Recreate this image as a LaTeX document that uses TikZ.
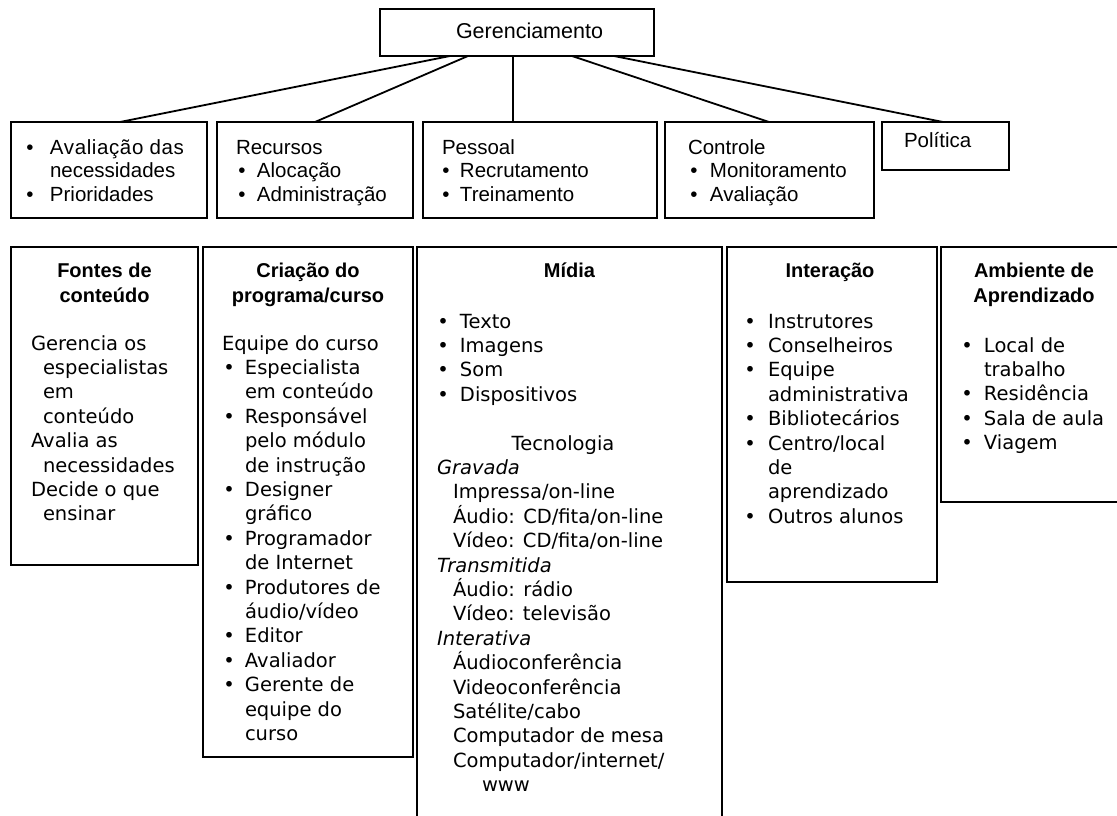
\documentclass[tikz,border=0pt]{standalone}
\usepackage{fontspec}
\setmainfont{Liberation Sans}
\newfontfamily\cg{DejaVu Sans}[ItalicFont={DejaVu Sans Oblique},BoldFont={DejaVu Sans Bold}]
\usetikzlibrary{calc}
\newcommand\bitem[3]{\par\noindent\hangindent=#2\relax\hangafter=1\relax\makebox[#2][l]{\hspace*{#1}\makebox[0pt]{\textbullet}}#3\par}
\newcommand\hitem[2]{\par\noindent\hangindent=#1\relax\hangafter=1\relax #2\par}
\newcommand\rowA{\fontsize{20.5}{23.5}\selectfont}
\newcommand\rowB{\cg\fontsize{19.5}{24.4}\selectfont}
\newcommand\headB{\normalfont\bfseries\fontsize{20}{25}\selectfont}
\begin{document}
\begin{tikzpicture}[x=1pt,y=-1pt,
  box/.style={draw, line width=1.8pt, inner sep=0pt, outer sep=0pt, anchor=north west, rectangle},
  txt/.style={inner sep=0pt, outer sep=0pt, anchor=base west},
  head/.style={inner sep=0pt, outer sep=0pt, anchor=base},
  conn/.style={line width=1.8pt}]
\useasboundingbox (0,0) rectangle (1117,816);

% top
\node[box, minimum width=274pt, minimum height=47pt] (g) at (380,9) {};
\node[txt] (gt) at (456,39) {\fontsize{21.5}{24}\selectfont Gerenciamento};

% row 1 boxes
\node[box, minimum width=196pt, minimum height=96pt] (b1) at (11,122) {};
\node[box, minimum width=196pt, minimum height=96pt] (b2) at (217,122) {};
\node[box, minimum width=234pt, minimum height=96pt] (b3) at (423,122) {};
\node[box, minimum width=209pt, minimum height=96pt] (b4) at (665,122) {};
\node[box, minimum width=127pt, minimum height=48pt] (b5) at (882,122) {};

\node[txt] (b1t) at (21,154) {\parbox[t]{185pt}{\rowA
  \bitem{9pt}{29pt}{\addfontfeature{LetterSpace=3}Avaliação das\newline\addfontfeature{LetterSpace=0}necessidades}
  \bitem{9pt}{29pt}{Prioridades}}};
\node[txt] (b2t) at (236,154) {\parbox[t]{175pt}{\rowA
  \hitem{0pt}{Recursos}
  \bitem{6pt}{21pt}{Alocação}
  \bitem{6pt}{21pt}{Administração}}};
\node[txt] (b3t) at (442,154) {\parbox[t]{210pt}{\rowA
  \hitem{0pt}{Pessoal}
  \bitem{4pt}{18pt}{Recrutamento}
  \bitem{4pt}{18pt}{Treinamento}}};
\node[txt] (b4t) at (688,154) {\parbox[t]{185pt}{\rowA
  \hitem{0pt}{Controle}
  \bitem{6pt}{22pt}{Monitoramento}
  \bitem{6pt}{22pt}{Avaliação}}};
\node[txt] (b5t) at (904,147) {\rowA Política};

% connectors
\draw[conn] ($(g.south west)+(70,0)$) -- ($(b1.north west)+(109,0)$);
\draw[conn] ($(g.south west)+(88,0)$) -- ($(b2.north west)+(98,0)$);
\draw[conn] ($(g.south west)+(133,0)$) -- ($(b3.north west)+(90,0)$);
\draw[conn] ($(g.south west)+(192,0)$) -- ($(b4.north west)+(104,0)$);
\draw[conn] ($(g.south west)+(234,0)$) -- ($(b5.north west)+(61,0)$);

% row 2 boxes
\node[box, minimum width=187pt, minimum height=318pt] (c1) at (11,247) {};
\node[box, minimum width=210pt, minimum height=510pt] (c2) at (203,247) {};
\node[box, minimum width=305pt, minimum height=600pt] (c3) at (417,247) {};
\node[box, minimum width=210pt, minimum height=335pt] (c4) at (727,247) {};
\node[box, minimum width=190pt, minimum height=255pt] (c5) at (941,247) {};

% headings
\node[head] (h1) at (104.5,277) {\parbox[t]{180pt}{\centering\headB Fontes de\\conteúdo}};
\node[head] (h2) at (308,277) {\parbox[t]{200pt}{\centering\headB Criação do\\programa/curso}};
\node[head] (h3) at (569.5,277) {\parbox[t]{200pt}{\centering\headB Mídia}};
\node[head] (h4) at (830,277) {\parbox[t]{200pt}{\centering\headB Interação}};
\node[head] (h5) at (1034,277) {\parbox[t]{200pt}{\centering\headB Ambiente de\\Aprendizado}};

% bodies
\node[txt] (t1) at (31,350) {\parbox[t]{165pt}{\rowB
  \hitem{12pt}{Gerencia os\newline especialistas\newline em\newline conteúdo}
  \hitem{12pt}{Avalia as\newline necessidades}
  \hitem{12pt}{Decide o que\newline ensinar}}};

\node[txt] (t2) at (222,350) {\parbox[t]{190pt}{\rowB
  \hitem{0pt}{Equipe do curso}
  \bitem{7pt}{23pt}{Especialista\newline em conteúdo}
  \bitem{7pt}{23pt}{Responsável\newline pelo módulo\newline de instrução}
  \bitem{7pt}{23pt}{Designer\newline gráfico}
  \bitem{7pt}{23pt}{Programador\newline de Internet}
  \bitem{7pt}{23pt}{Produtores de\newline áudio/vídeo}
  \bitem{7pt}{23pt}{Editor}
  \bitem{7pt}{23pt}{Avaliador}
  \bitem{7pt}{23pt}{Gerente de\newline equipe do\newline curso}}};

\node[txt] (t3) at (437,328) {\parbox[t]{280pt}{\rowB
  \bitem{6pt}{23pt}{Texto}
  \bitem{6pt}{23pt}{Imagens}
  \bitem{6pt}{23pt}{Som}
  \bitem{6pt}{23pt}{Dispositivos}
  \vspace{24.4pt}
  \hitem{0pt}{\makebox[252pt]{Tecnologia}}
  \hitem{0pt}{{\itshape Gravada}}
  \hitem{0pt}{\hspace*{16pt}Impressa/on-line}
  \hitem{0pt}{\hspace*{16pt}Áudio: CD/fita/on-line}
  \hitem{0pt}{\hspace*{16pt}Vídeo: CD/fita/on-line}
  \hitem{0pt}{{\itshape Transmitida}}
  \hitem{0pt}{\hspace*{16pt}Áudio: rádio}
  \hitem{0pt}{\hspace*{16pt}Vídeo: televisão}
  \hitem{0pt}{{\itshape Interativa}}
  \hitem{0pt}{\hspace*{16pt}Áudioconferência}
  \hitem{0pt}{\hspace*{16pt}Videoconferência}
  \hitem{0pt}{\hspace*{16pt}Satélite/cabo}
  \hitem{0pt}{\hspace*{16pt}Computador de mesa}
  \hitem{45pt}{\hspace*{16pt}Computador/internet/\newline www}}};

\node[txt] (t4) at (744,328) {\parbox[t]{190pt}{\rowB
  \bitem{6pt}{24pt}{Instrutores}
  \bitem{6pt}{24pt}{Conselheiros}
  \bitem{6pt}{24pt}{Equipe\newline administrativa}
  \bitem{6pt}{24pt}{Bibliotecários}
  \bitem{6pt}{24pt}{Centro/local\newline de\newline aprendizado}
  \bitem{6pt}{24pt}{Outros alunos}}};

\node[txt] (t5) at (961,352) {\parbox[t]{160pt}{\rowB
  \bitem{6pt}{23pt}{Local de\newline trabalho}
  \bitem{6pt}{23pt}{Residência}
  \bitem{6pt}{23pt}{Sala de aula}
  \bitem{6pt}{23pt}{Viagem}}};
\end{tikzpicture}
\end{document}
